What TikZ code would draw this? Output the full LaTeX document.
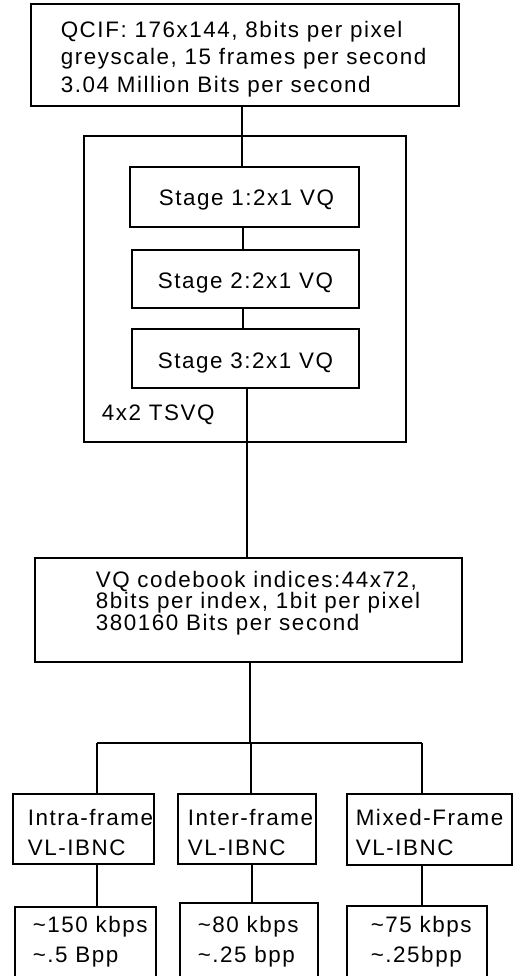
\documentclass[tikz,border=0pt]{standalone}
\usepackage{fontspec}
\setmainfont{Liberation Sans}[LetterSpace=7]
\begin{document}
\begin{tikzpicture}[x=1pt, y=-1pt,
  line width=1.5pt,
  box/.style={draw=black, rectangle, inner sep=0pt},
  txt/.style={anchor=base west, inner sep=0pt, text height=16pt, text depth=4pt,
    font=\fontsize{22.4}{26}\selectfont},
  link/.style={draw=black, line width=1.5pt}]
\useasboundingbox[fill=white] (0,0) rectangle (514,976);

% source description
\node[box, minimum width=428, minimum height=102] (src) at (245,55) {};
\node[txt] (src1) at (60,37.5) {QCIF: 176x144, 8bits per pixel};
\node[txt] (src2) at (60,65) {greyscale, 15 frames per second};
\node[txt] (src3) at (60,93) {3.04 Million Bits per second};

% tree-structured VQ with its three stages
\node[box, minimum width=322, minimum height=306] (tsvq) at (245,289) {};
\node[box, minimum width=229, minimum height=60] (s1) at (244.5,197) {};
\node[box, minimum width=227, minimum height=58] (s2) at (245.5,279) {};
\node[box, minimum width=227, minimum height=59] (s3) at (245.5,358.5) {};
\node[txt] (s1t) at (158,206) {Stage 1:2x1 VQ};
\node[txt] (s2t) at (157,288) {Stage 2:2x1 VQ};
\node[txt] (s3t) at (157,368) {Stage 3:2x1 VQ};
\node[txt] (tsvqt) at (101,420) {4x2 TSVQ};

% codebook index stream
\node[box, minimum width=427, minimum height=104] (vq) at (248.5,610) {};
\node[txt] (vq1) at (95,587) {VQ codebook indices:44x72,};
\node[txt] (vq2) at (95,608) {8bits per index, 1bit per pixel};
\node[txt] (vq3) at (95,630) {380160 Bits per second};

% three coders
\node[box, minimum width=141, minimum height=70] (m1) at (83.5,829) {};
\node[box, minimum width=138, minimum height=70] (m2) at (247,829) {};
\node[box, minimum width=165, minimum height=71] (m3) at (429.5,829.5) {};
\node[txt] (m1a) at (27,825) {Intra-frame};
\node[txt] (m1b) at (27,855) {VL-IBNC};
\node[txt] (m2a) at (187,825) {Inter-frame};
\node[txt] (m2b) at (187,855) {VL-IBNC};
\node[txt] (m3a) at (355,825) {Mixed-Frame};
\node[txt] (m3b) at (355,855) {VL-IBNC};

% resulting rates
\node[box, minimum width=141, minimum height=110] (r1) at (85.5,962) {};
\node[box, minimum width=138, minimum height=110] (r2) at (249,958) {};
\node[box, minimum width=140, minimum height=110] (r3) at (417,961) {};
\node[txt] (r1a) at (32,932) {\textasciitilde150 kbps};
\node[txt] (r1b) at (32,962) {\textasciitilde.5 Bpp};
\node[txt] (r2a) at (197,932) {\textasciitilde80 kbps};
\node[txt] (r2b) at (197,962) {\textasciitilde.25 bpp};
\node[txt] (r3a) at (370,932) {\textasciitilde75 kbps};
\node[txt] (r3b) at (370,962) {\textasciitilde.25bpp};

% branch points
\coordinate (bar) at (250,743);
\coordinate (j1) at (97,743);
\coordinate (j2) at (251,743);
\coordinate (j3) at (422,743);

% connectors
\draw[link] (s1.north -| 242,0) -- (src.south -| 242,0);
\draw[link] (s1.south -| 243,0) -- (s2.north -| 243,0);
\draw[link] (s2.south -| 243,0) -- (s3.north -| 243,0);
\draw[link] (s3.south -| 247,0) -- (vq.north -| 247,0);
\draw[link] (vq.south -| bar) -- (bar);
\draw[link] (j1) -- (j3);
\draw[link] (j1) -- (j1 |- m1.north);
\draw[link] (j2) -- (j2 |- m2.north);
\draw[link] (j3) -- (j3 |- m3.north);
\draw[link] (j1 |- m1.south) -- (j1 |- r1.north);
\draw[link] (m2.south -| 252,0) -- (r2.north -| 252,0);
\draw[link] (j3 |- m3.south) -- (j3 |- r3.north);
\end{tikzpicture}
\end{document}
